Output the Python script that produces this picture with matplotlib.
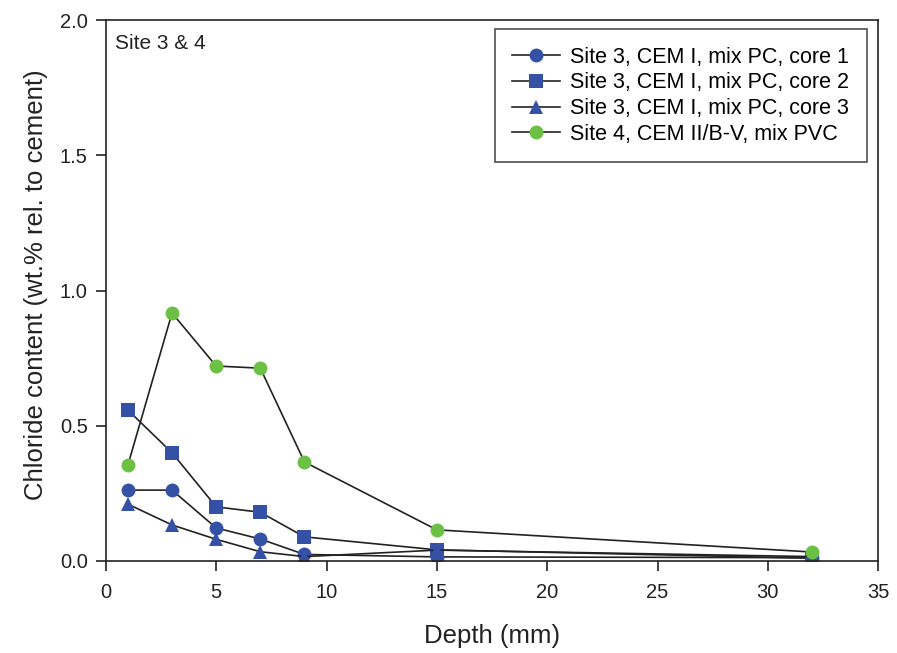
import matplotlib
matplotlib.use("Agg")
import matplotlib.pyplot as plt

plt.rcParams['font.family'] = ['Liberation Sans', 'DejaVu Sans']

depth = [1, 3, 5, 7, 9, 15, 32]
core1 = [0.262, 0.262, 0.122, 0.081, 0.024, 0.015, 0.012]
core2 = [0.558, 0.400, 0.200, 0.180, 0.089, 0.041, 0.010]
core3 = [0.210, 0.133, 0.080, 0.034, 0.016, 0.040, 0.016]
site4 = [0.355, 0.917, 0.721, 0.713, 0.366, 0.115, 0.033]

labels = ["Site 3, CEM I, mix PC, core 1",
          "Site 3, CEM I, mix PC, core 2",
          "Site 3, CEM I, mix PC, core 3",
          "Site 4, CEM II/B-V, mix PVC"]

blue = '#3451A6'
green = '#6CC043'

fig = plt.figure(figsize=(8.97, 6.53), dpi=100)
ax = fig.add_axes([0.118, 0.141, 0.861, 0.828])

kw = dict(color='#222222', lw=1.2, markersize=10, markeredgewidth=0)
ax.plot(depth, core1, marker='o', markerfacecolor=blue, label=labels[0], **kw)
ax.plot(depth, core2, marker='s', markerfacecolor=blue, label=labels[1], **kw)
ax.plot(depth, core3, marker='^', markerfacecolor=blue, label=labels[2], **kw)
ax.plot(depth, site4, marker='o', markerfacecolor=green, label=labels[3], **kw)

ax.set_xlim(0, 35)
ax.set_ylim(0, 2.0)
ax.set_xticks([0, 5, 10, 15, 20, 25, 30, 35])
ax.set_yticks([0.0, 0.5, 1.0, 1.5, 2.0])
ax.set_yticklabels(['0.0', '0.5', '1.0', '1.5', '2.0'])
ax.tick_params(direction='out', length=7, width=1.2, labelsize=14.5, colors='#222222')
ax.tick_params(axis='x', pad=9)
ax.tick_params(axis='y', pad=6)
for s in ax.spines.values():
    s.set_linewidth(1.2)
    s.set_color('#222222')

ax.set_xlabel('Depth (mm)', fontsize=18.5, labelpad=16, color='#222222')
ax.set_ylabel('Chloride content (wt.% rel. to cement)', fontsize=18.5, color='#222222')
ax.yaxis.set_label_coords(-0.075, 0.51)
ax.text(0.012, 0.975, 'Site 3 & 4', transform=ax.transAxes, fontsize=15, va='top', ha='left', color='#222222')

leg = ax.legend(loc='upper right', bbox_to_anchor=(0.985, 0.983), fontsize=15.5, frameon=True, fancybox=False,
                edgecolor='#222222', borderpad=0.8, handlelength=2.2, labelspacing=0.22, handletextpad=0.5,
                borderaxespad=0)
leg.get_frame().set_linewidth(1.2)

fig.savefig('out.png', dpi=100)
